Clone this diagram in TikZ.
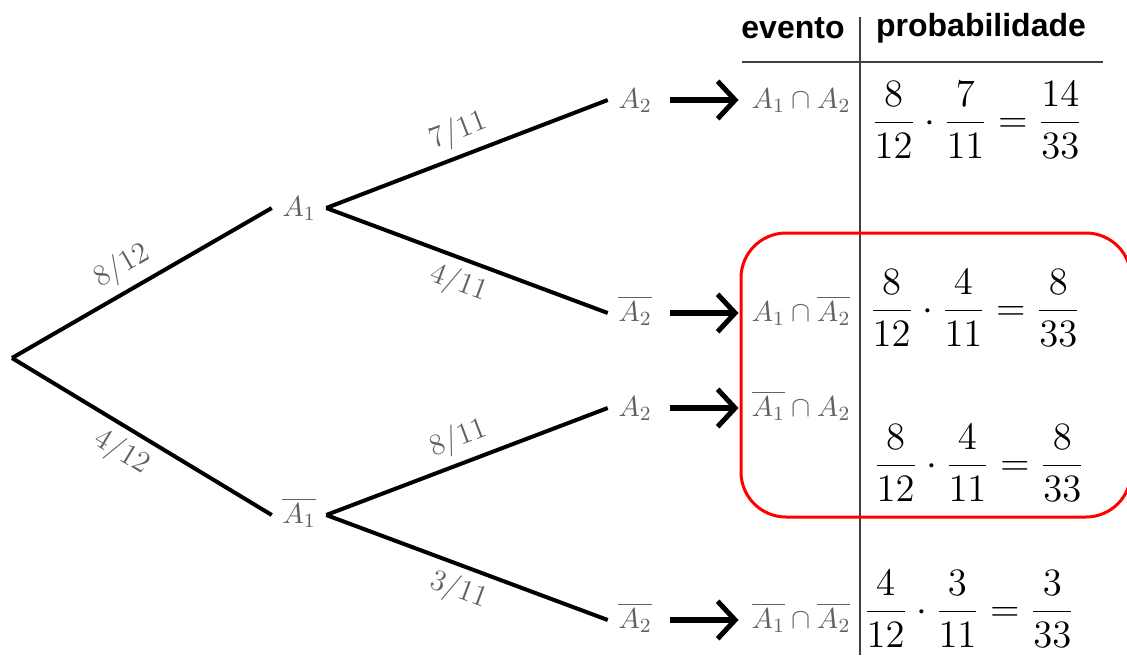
\RequirePackage{fix-cm}
\documentclass[tikz,border=0pt]{standalone}
\usepackage{amsmath,amssymb}
\usepackage{fontspec}
\setsansfont{Liberation Sans}
\usetikzlibrary{positioning,arrows.meta}

\begin{document}
\begin{tikzpicture}[x=0.4pt, y=-0.4pt,
  ev/.style={text=black!62, inner sep=4pt, text height=8.5pt, text depth=2pt, font=\fontsize{11.5}{13}\selectfont},
  evt/.style={text=black!62, inner sep=1pt, text height=8.5pt, text depth=2pt, font=\fontsize{11.5}{13}\selectfont},
  lbl/.style={text=black!62, inner sep=3pt, font=\fontsize{12}{14}\selectfont},
  br/.style={line width=1.6pt},
  arr/.style={-{Straight Barb[length=7pt, width=15pt, line width=2pt]}, line width=2.4pt, shorten <=3pt, shorten >=4pt},
  prob/.style={inner sep=0pt, font=\fontsize{15.5}{19}\selectfont},
  hd/.style={font=\sffamily\bfseries\fontsize{12.8}{15}\selectfont},
  rule/.style={draw=black!75, line width=0.8pt},
]
\useasboundingbox (0,0) rectangle (1127,655);

% tree
\coordinate (root) at (12,358);
\node[ev] (A1) at (299,208) {$A_1$};
\node[ev] (nA1) at (299,515) {$\overline{A_1}$};
\node[ev] (A2a) at (635,100) {$A_2$};
\node[ev] (nA2a) at (635,313) {$\overline{A_2}$};
\node[ev] (A2b) at (635,408) {$A_2$};
\node[ev] (nA2b) at (635,620) {$\overline{A_2}$};

\draw[br] (root) -- node[lbl, sloped, above, pos=0.47] {$8/12$} (A1.west);
\draw[br] (root) -- node[lbl, sloped, below, pos=0.47] {$4/12$} (nA1.west);
\draw[br] (A1.east) -- node[lbl, sloped, above, pos=0.5] {$7/11$} (A2a.west);
\draw[br] (A1.east) -- node[lbl, sloped, below, pos=0.5] {$4/11$} (nA2a.west);
\draw[br] (nA1.east) -- node[lbl, sloped, above, pos=0.5] {$8/11$} (A2b.west);
\draw[br] (nA1.east) -- node[lbl, sloped, below, pos=0.5] {$3/11$} (nA2b.west);

% events
\node[evt] (e1) at (801,100) {$A_1\cap A_2$};
\node[evt] (e2) at (801,313) {$A_1\cap \overline{A_2}$};
\node[evt] (e3) at (801,408) {$\overline{A_1}\cap A_2$};
\node[evt] (e4) at (801,620) {$\overline{A_1}\cap \overline{A_2}$};
\draw[arr] (A2a) -- (e1);
\draw[arr] (nA2a) -- (e2);
\draw[arr] (A2b) -- (e3);
\draw[arr] (nA2b) -- (e4);

% table
\node[hd] (hev) at (793,28) {evento};
\node[hd] (hpr) at (981,28) {probabilidade};
\draw[rule] (860,17) -- (860,655);
\draw[rule] (742,62) -- (1103,62);

\node[prob] (p1) at (977,120) {$\dfrac{8}{12}\cdot\dfrac{7}{11}=\dfrac{14}{33}$};
\node[prob] (p2) at (975,308) {$\dfrac{8}{12}\cdot\dfrac{4}{11}=\dfrac{8}{33}$};
\node[prob] (p3) at (979,463) {$\dfrac{8}{12}\cdot\dfrac{4}{11}=\dfrac{8}{33}$};
\node[prob] (p4) at (969,609) {$\dfrac{4}{12}\cdot\dfrac{3}{11}=\dfrac{3}{33}$};

% highlight
\draw[red, line width=1.2pt, rounded corners=18pt] (741,233) rectangle (1131,517);
\end{tikzpicture}
\end{document}
